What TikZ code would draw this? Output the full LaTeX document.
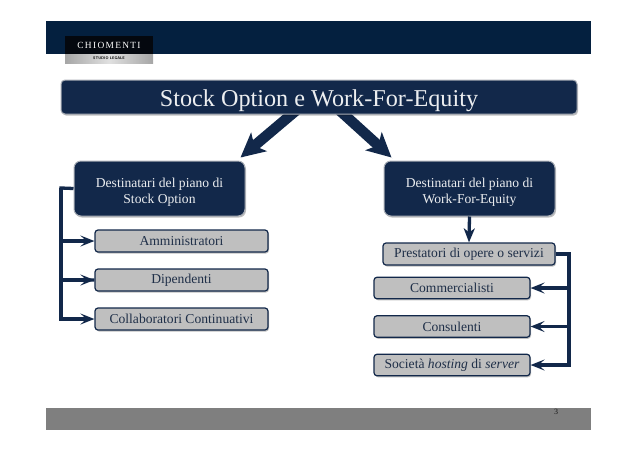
\documentclass[tikz,border=0pt]{standalone}
\usepackage{fontspec}
\setmainfont{Liberation Serif}
\usetikzlibrary{arrows.meta,shadows,calc,backgrounds}
\definecolor{navy}{HTML}{12284A}
\definecolor{barnavy}{HTML}{04203F}
\definecolor{itemgrey}{HTML}{BFBFBF}
\definecolor{itemtext}{HTML}{1F2F48}
\definecolor{edgegrey}{HTML}{A9AEB6}
\definecolor{footgrey}{HTML}{7F7F7F}
\tikzset{
  softshadow/.style={drop shadow={shadow xshift=1pt,shadow yshift=-1.5pt,fill=black,opacity=.25}},
  darkbox/.style={draw=edgegrey,line width=1pt,fill=navy,text=white!92!navy,rounded corners=#1,inner sep=0pt,softshadow},
  itembox/.style={draw=navy,line width=1.2pt,fill=itemgrey,text=itemtext,rounded corners=3pt,inner sep=0pt,softshadow,font=\fontsize{13.6}{15}\selectfont},
  conn/.style={draw=navy,line width=3.3pt,-{Stealth[length=14pt,width=11pt,inset=6pt]}},
  connplain/.style={draw=navy,line width=3.3pt},
  bigarrow/.style={draw=navy,line width=10.5pt,-{Stealth[length=24pt,width=24pt,inset=6pt]},drop shadow={shadow xshift=1pt,shadow yshift=-1pt,fill=black,opacity=.2}},
  downarrow/.style={draw=navy,line width=3.3pt,-{Stealth[length=14pt,width=11pt,inset=4pt]}}
}
\begin{document}
\begin{tikzpicture}[x=1pt,y=-1pt]
\useasboundingbox (0,0) rectangle (638,451);
\node[fill=barnavy,minimum width=545pt,minimum height=33pt,inner sep=0pt] (topbar) at (318.5,37.5) {};
\node[fill=footgrey,minimum width=545pt,minimum height=22pt,inner sep=0pt] (footbar) at (318.5,419) {};
\node[text=black!90,font=\fontsize{8}{9}\selectfont,inner sep=0pt] (pagenum) at (556,412) {3};
% logo
\node[fill=black!80!navy,minimum width=88pt,minimum height=18pt,inner sep=0pt,text=white,font=\fontsize{9.4}{10}\selectfont\addfontfeature{LetterSpace=14}] (logotop) at (109,45) {CHIOMENTI};
\node[left color=black!35,right color=black!35,middle color=black!12,minimum width=88pt,minimum height=9pt,inner sep=0pt,text=black,font=\fontsize{3.8}{4}\selectfont\sffamily\bfseries] (logobot) at (109,58.5) {STUDIO LEGALE};
% main boxes
\node[darkbox=4pt,minimum width=516pt,minimum height=34pt,font=\fontsize{24.2}{26}\selectfont] (title) at (319,97) {\rule{0pt}{24pt}Stock Option e Work-For-Equity};
\node[darkbox=7pt,minimum width=171pt,minimum height=55pt,align=center,font=\fontsize{13.6}{16}\selectfont] (left) at (159.5,188.5) {\rule{0pt}{16pt}Destinatari del piano di\\Stock Option};
\node[darkbox=7pt,minimum width=171pt,minimum height=55pt,align=center,font=\fontsize{13.6}{16}\selectfont] (right) at (469.5,188.5) {\rule{0pt}{16pt}Destinatari del piano di\\Work-For-Equity};
% left items
\node[itembox,minimum width=173pt,minimum height=22pt] (a1) at (181.5,241) {Amministratori};
\node[itembox,minimum width=173pt,minimum height=22pt] (a2) at (181.5,280) {Dipendenti};
\node[itembox,minimum width=173pt,minimum height=22pt] (a3) at (181.5,319) {Collaboratori Continuativi};
% right items
\node[itembox,minimum width=172pt,minimum height=22pt] (b0) at (469,254) {Prestatori di opere o servizi};
\node[itembox,minimum width=156pt,minimum height=21.5pt] (b1) at (452,288) {Commercialisti};
\node[itembox,minimum width=156pt,minimum height=21.5pt] (b2) at (452,326.5) {Consulenti};
\node[itembox,minimum width=156pt,minimum height=21.5pt] (b3) at (452,365) {Società \textit{hosting} di \textit{server}};
% big arrows
\coordinate (ls) at ($(title.south west)+(238,-6)$);
\coordinate (lt) at ($(left.north east)+(-5,-3)$);
\coordinate (rs) at ($(title.south west)+(277,-6)$);
\coordinate (rt) at ($(right.north west)+(8,-3)$);
\begin{scope}[on background layer]
\draw[bigarrow] (ls) -- (lt);
\draw[bigarrow] (rs) -- (rt);
\end{scope}
\draw[downarrow] (right.south) -- (b0.north);
% left trunk
\coordinate (lturn) at (61,188);
\draw[connplain,line join=miter] (left.west) -- (lturn) |- (a2.west);
\draw[conn,line join=miter] (lturn) |- (a3.west);
\draw[conn] (lturn |- a1.west) -- (a1.west);
\draw[conn] (lturn |- a2.west) -- (a2.west);
% right trunk
\coordinate (rturn) at (569,254);
\draw[conn,line join=miter] (b0.east) -- (rturn) |- (b3.east);
\draw[conn] (rturn |- b1.east) -- (b1.east);
\draw[conn] (rturn |- b2.east) -- (b2.east);
\end{tikzpicture}
\end{document}
